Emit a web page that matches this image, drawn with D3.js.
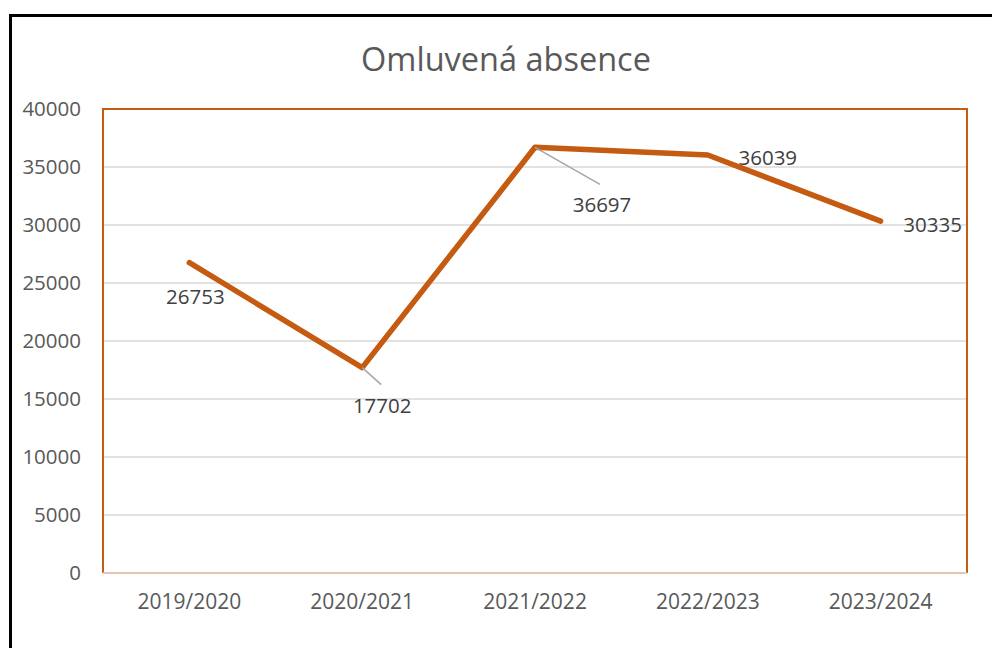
<!DOCTYPE html>
<html><head><meta charset="utf-8">
<script src="https://cdn.jsdelivr.net/npm/d3@7"></script>
<style>body{margin:0;background:#fff}svg{display:block}</style>
</head><body>
<svg id="c" width="992" height="648"></svg>
<script>
const categories = ["2019/2020","2020/2021","2021/2022","2022/2023","2023/2024"];
const values = [26753, 17702, 36697, 36039, 30335];
const yTicks = [0,5000,10000,15000,20000,25000,30000,35000,40000];
const title = "Omluvená absence";

const svg = d3.select("#c");
const W=992,H=648;
const m={l:103,t:109,r:967,b:573};
const font = "'Open Sans', sans-serif";

// outer border
svg.append("rect").attr("x",10.5).attr("y",15.5).attr("width",W+20).attr("height",H+20)
  .attr("fill","#fff").attr("stroke","#000").attr("stroke-width",3);

const x = d3.scaleBand().domain(categories).range([m.l,m.r]);
const y = d3.scaleLinear().domain([0,40000]).range([m.b,m.t]);

// gridlines
svg.append("g").selectAll("line").data(yTicks.filter(d=>d>0&&d<40000)).join("line")
  .attr("x1",m.l).attr("x2",m.r).attr("y1",d=>y(d)).attr("y2",d=>y(d))
  .attr("stroke","#d9d9d9").attr("stroke-width",1.5);

// plot border
svg.append("path").attr("d",`M${m.l},${m.b}V${m.t}H${m.r}V${m.b}`)
  .attr("fill","none").attr("stroke","#c55a11").attr("stroke-width",2);
svg.append("line").attr("x1",m.l).attr("x2",m.r).attr("y1",m.b).attr("y2",m.b)
  .attr("stroke","#e6c5b3").attr("stroke-width",2);

// y axis
const ya = svg.append("g").attr("transform",`translate(${m.l-22},0)`)
  .call(d3.axisLeft(y).tickValues(yTicks).tickSize(0).tickPadding(0).tickFormat(d3.format("d")));
ya.select(".domain").remove();
ya.selectAll("text").attr("font-family",font).attr("font-size",20.5).attr("fill","#595959");

// x axis
const xa = svg.append("g").attr("transform",`translate(0,${m.b+20})`)
  .call(d3.axisBottom(x).tickSize(0).tickPadding(0));
xa.select(".domain").remove();
xa.selectAll("text").attr("font-family",font).attr("font-size",21).attr("fill","#595959").attr("dy","0.75em");

// title
svg.append("text").attr("x",506).attr("y",71).attr("text-anchor","middle")
  .attr("font-family",font).attr("font-size",32.5).attr("fill","#595959").text(title);

// line
const cx = d=>x(d)+x.bandwidth()/2;
const pts = categories.map((c,i)=>[cx(c),y(values[i])]);
svg.append("path").attr("d",d3.line()(pts)).attr("fill","none")
  .attr("stroke","#c55a11").attr("stroke-width",5.5).attr("stroke-linecap","round").attr("stroke-linejoin","round");

// data labels (offsets)
const offs = [
  {dx:6,dy:33,lead:false},
  {dx:20,dy:37,lead:true,lx:19,ly:17},
  {dx:67,dy:57,lead:true,lx:65,ly:37},
  {dx:60,dy:2,lead:false},
  {dx:52,dy:3,lead:false}
];
const lbl = svg.append("g");
pts.forEach((p,i)=>{
  const o=offs[i];
  if(o.lead){
    lbl.append("line").attr("x1",p[0]).attr("y1",p[1]).attr("x2",p[0]+o.lx).attr("y2",p[1]+o.ly)
      .attr("stroke","#a6a6a6").attr("stroke-width",1.5);
  }
  lbl.append("text").attr("x",p[0]+o.dx).attr("y",p[1]+o.dy).attr("text-anchor","middle")
    .attr("dominant-baseline","central").attr("font-family",font).attr("font-size",20.5)
    .attr("fill","#404040").text(values[i]);
});
</script>
</body></html>
